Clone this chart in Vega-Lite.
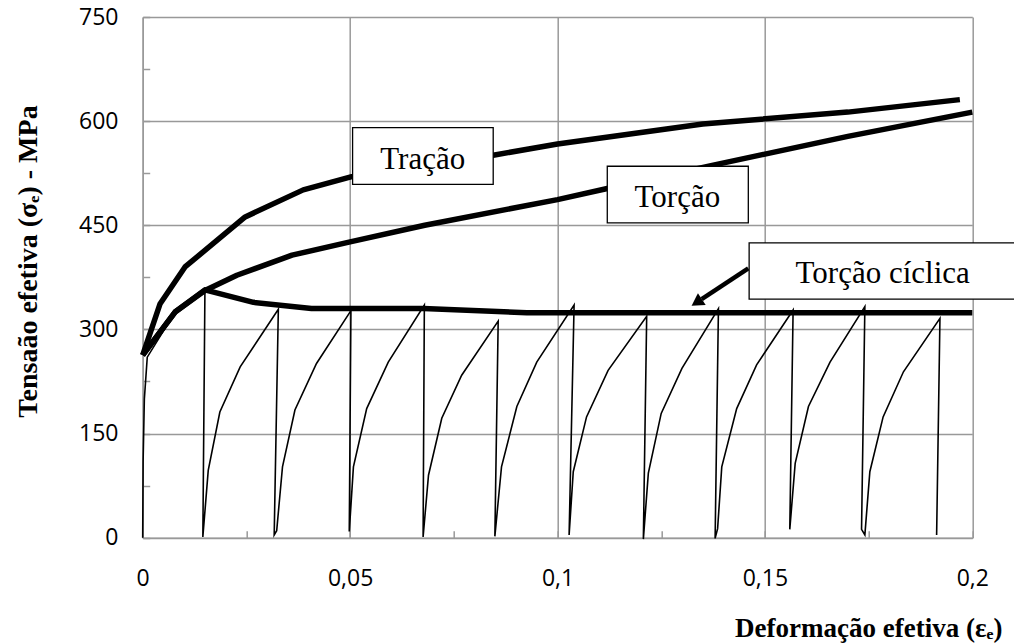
{
  "$schema": "https://vega.github.io/schema/vega-lite/v6.json",
  "width": 829.6,
  "height": 520.7,
  "autosize": {"type": "none"},
  "padding": {"left": 142.7, "top": 17, "right": 41.7, "bottom": 105.3},
  "background": "white",
  "config": {"view": {"stroke": null}},
  "datasets": {
    "curves": [
      {"s": "Tração", "i": 0, "x": 0, "y": 263},
      {"s": "Tração", "i": 1, "x": 0.0042, "y": 337},
      {"s": "Tração", "i": 2, "x": 0.0102, "y": 390},
      {"s": "Tração", "i": 3, "x": 0.0247, "y": 462},
      {"s": "Tração", "i": 4, "x": 0.0387, "y": 501},
      {"s": "Tração", "i": 5, "x": 0.0504, "y": 520},
      {"s": "Tração", "i": 6, "x": 0.0845, "y": 551},
      {"s": "Tração", "i": 7, "x": 0.1, "y": 567},
      {"s": "Tração", "i": 8, "x": 0.135, "y": 596},
      {"s": "Tração", "i": 9, "x": 0.17, "y": 613},
      {"s": "Tração", "i": 10, "x": 0.197, "y": 631},
      {"s": "Torção", "i": 0, "x": 0, "y": 263},
      {"s": "Torção", "i": 1, "x": 0.0078, "y": 325},
      {"s": "Torção", "i": 2, "x": 0.015, "y": 356},
      {"s": "Torção", "i": 3, "x": 0.0227, "y": 378},
      {"s": "Torção", "i": 4, "x": 0.036, "y": 407},
      {"s": "Torção", "i": 5, "x": 0.05, "y": 426},
      {"s": "Torção", "i": 6, "x": 0.068, "y": 450},
      {"s": "Torção", "i": 7, "x": 0.1, "y": 487},
      {"s": "Torção", "i": 8, "x": 0.112, "y": 503},
      {"s": "Torção", "i": 9, "x": 0.137, "y": 536},
      {"s": "Torção", "i": 10, "x": 0.17, "y": 578},
      {"s": "Torção", "i": 11, "x": 0.2, "y": 613},
      {"s": "Envoltória", "i": 0, "x": 0, "y": 263},
      {"s": "Envoltória", "i": 1, "x": 0.0078, "y": 325},
      {"s": "Envoltória", "i": 2, "x": 0.015, "y": 357},
      {"s": "Envoltória", "i": 3, "x": 0.0267, "y": 339},
      {"s": "Envoltória", "i": 4, "x": 0.0407, "y": 330},
      {"s": "Envoltória", "i": 5, "x": 0.0677, "y": 330},
      {"s": "Envoltória", "i": 6, "x": 0.0926, "y": 324},
      {"s": "Envoltória", "i": 7, "x": 0.2, "y": 324},
      {"s": "Cíclica", "i": 0, "x": 0, "y": 0},
      {"s": "Cíclica", "i": 1, "x": 0.0001, "y": 110},
      {"s": "Cíclica", "i": 2, "x": 0.0004, "y": 200},
      {"s": "Cíclica", "i": 3, "x": 0.0011, "y": 260},
      {"s": "Cíclica", "i": 4, "x": 0.0078, "y": 325},
      {"s": "Cíclica", "i": 5, "x": 0.015, "y": 355},
      {"s": "Cíclica", "i": 6, "x": 0.0145, "y": 1},
      {"s": "Cíclica", "i": 7, "x": 0.0158, "y": 97},
      {"s": "Cíclica", "i": 8, "x": 0.0186, "y": 181},
      {"s": "Cíclica", "i": 9, "x": 0.0235, "y": 246},
      {"s": "Cíclica", "i": 10, "x": 0.0327, "y": 329},
      {"s": "Cíclica", "i": 11, "x": 0.0317, "y": 4},
      {"s": "Cíclica", "i": 12, "x": 0.0323, "y": 10},
      {"s": "Cíclica", "i": 13, "x": 0.0337, "y": 102},
      {"s": "Cíclica", "i": 14, "x": 0.0367, "y": 184},
      {"s": "Cíclica", "i": 15, "x": 0.0419, "y": 251},
      {"s": "Cíclica", "i": 16, "x": 0.0502, "y": 327},
      {"s": "Cíclica", "i": 17, "x": 0.0498, "y": 9},
      {"s": "Cíclica", "i": 18, "x": 0.0508, "y": 102},
      {"s": "Cíclica", "i": 19, "x": 0.054, "y": 186},
      {"s": "Cíclica", "i": 20, "x": 0.0592, "y": 253},
      {"s": "Cíclica", "i": 21, "x": 0.0679, "y": 335},
      {"s": "Cíclica", "i": 22, "x": 0.0676, "y": 1},
      {"s": "Cíclica", "i": 23, "x": 0.0689, "y": 90},
      {"s": "Cíclica", "i": 24, "x": 0.0721, "y": 172},
      {"s": "Cíclica", "i": 25, "x": 0.0769, "y": 234},
      {"s": "Cíclica", "i": 26, "x": 0.0857, "y": 312},
      {"s": "Cíclica", "i": 27, "x": 0.0849, "y": 2},
      {"s": "Cíclica", "i": 28, "x": 0.0865, "y": 102},
      {"s": "Cíclica", "i": 29, "x": 0.0902, "y": 189},
      {"s": "Cíclica", "i": 30, "x": 0.095, "y": 253},
      {"s": "Cíclica", "i": 31, "x": 0.104, "y": 335},
      {"s": "Cíclica", "i": 32, "x": 0.1028, "y": 4},
      {"s": "Cíclica", "i": 33, "x": 0.1038, "y": 95},
      {"s": "Cíclica", "i": 34, "x": 0.107, "y": 174},
      {"s": "Cíclica", "i": 35, "x": 0.1122, "y": 241},
      {"s": "Cíclica", "i": 36, "x": 0.1215, "y": 319},
      {"s": "Cíclica", "i": 37, "x": 0.1207, "y": -2},
      {"s": "Cíclica", "i": 38, "x": 0.1219, "y": 93},
      {"s": "Cíclica", "i": 39, "x": 0.125, "y": 179},
      {"s": "Cíclica", "i": 40, "x": 0.13, "y": 244},
      {"s": "Cíclica", "i": 41, "x": 0.1388, "y": 330},
      {"s": "Cíclica", "i": 42, "x": 0.138, "y": -1},
      {"s": "Cíclica", "i": 43, "x": 0.1386, "y": 13},
      {"s": "Cíclica", "i": 44, "x": 0.1396, "y": 102},
      {"s": "Cíclica", "i": 45, "x": 0.1432, "y": 186},
      {"s": "Cíclica", "i": 46, "x": 0.148, "y": 249},
      {"s": "Cíclica", "i": 47, "x": 0.1568, "y": 328},
      {"s": "Cíclica", "i": 48, "x": 0.156, "y": 12},
      {"s": "Cíclica", "i": 49, "x": 0.1573, "y": 107},
      {"s": "Cíclica", "i": 50, "x": 0.1605, "y": 189},
      {"s": "Cíclica", "i": 51, "x": 0.1657, "y": 253},
      {"s": "Cíclica", "i": 52, "x": 0.1741, "y": 333},
      {"s": "Cíclica", "i": 53, "x": 0.1733, "y": 12},
      {"s": "Cíclica", "i": 54, "x": 0.1741, "y": 4},
      {"s": "Cíclica", "i": 55, "x": 0.1753, "y": 95},
      {"s": "Cíclica", "i": 56, "x": 0.1785, "y": 174},
      {"s": "Cíclica", "i": 57, "x": 0.1834, "y": 239},
      {"s": "Cíclica", "i": 58, "x": 0.1922, "y": 316},
      {"s": "Cíclica", "i": 59, "x": 0.1914, "y": 4}
    ],
    "boxes": [
      {"label": "Tração", "x": 0.0506, "x2": 0.0845, "y": 509, "y2": 590.7},
      {"label": "Torção", "x": 0.112, "x2": 0.146, "y": 453.4, "y2": 535},
      {"label": "Torção cíclica", "x": 0.1462, "x2": 0.2105, "y": 343.6, "y2": 424.6}
    ],
    "labels": [
      {"label": "Tração", "x": 0.0675, "y": 531.7},
      {"label": "Torção", "x": 0.1289, "y": 476.5},
      {"label": "Torção cíclica", "x": 0.1784, "y": 366.2}
    ],
    "arrow": [
      {"x": 0.146, "y": 387.8, "x2": 0.13476, "y2": 343.6}
    ],
    "arrowhead": [
      {"x": 0.13356, "y": 338.9}
    ]
  },
  "encoding": {
    "x": {
      "field": "x",
      "type": "quantitative",
      "scale": {"domain": [0, 0.2], "nice": false, "zero": false},
      "axis": {
        "values": [0, 0.025, 0.05, 0.075, 0.1, 0.125, 0.15, 0.175, 0.2],
        "format": "~g",
        "labelExpr": "round(datum.value*1000) % 50 === 0 ? replace(datum.label, '.', ',') : ''",
        "grid": true,
        "gridColor": "#999999",
        "gridWidth": 1.5,
        "gridOpacity": {"condition": {"test": "round(datum.value*1000) % 50 !== 0", "value": 0}, "value": 1},
        "domainColor": "#999999",
        "domainWidth": 1.5,
        "ticks": true,
        "tickColor": "#999999",
        "tickWidth": 1.5,
        "tickSize": -7,
        "labelFont": "Open Sans",
        "labelFontSize": 23,
        "labelColor": "black",
        "labelPadding": 37,
        "labelFlush": false,
        "labelOverlap": false,
        "title": "Deformação efetiva (εₑ)",
        "titleFont": "Liberation Serif",
        "titleFontSize": 27,
        "titleFontWeight": "bold",
        "titleColor": "black",
        "titleAlign": "right",
        "titleAnchor": "end",
        "titleBaseline": "alphabetic",
        "titleX": 859.3,
        "titleY": 99
      }
    },
    "y": {
      "field": "y",
      "type": "quantitative",
      "scale": {"domain": [0, 750], "nice": false, "zero": false},
      "axis": {
        "values": [0, 75, 150, 225, 300, 375, 450, 525, 600, 675, 750],
        "labelExpr": "datum.value % 150 === 0 ? datum.label : ''",
        "grid": true,
        "gridColor": "#999999",
        "gridWidth": 1.5,
        "gridOpacity": {"condition": {"test": "datum.value % 150 !== 0", "value": 0}, "value": 1},
        "domainColor": "#999999",
        "domainWidth": 1.5,
        "ticks": true,
        "tickColor": "#999999",
        "tickWidth": 1.5,
        "tickSize": -7,
        "labelFont": "Open Sans",
        "labelFontSize": 23,
        "labelColor": "black",
        "labelPadding": 31.7,
        "labelFlush": false,
        "labelOverlap": false,
        "title": "Tensaão efetiva (σₑ) - MPa",
        "titleFont": "Liberation Serif",
        "titleFontSize": 28,
        "titleFontWeight": "bold",
        "titleColor": "black",
        "titleAngle": -90,
        "titleAlign": "center",
        "titleBaseline": "middle",
        "titleX": -114.7,
        "titleY": 244
      }
    }
  },
  "layer": [
    {
      "data": {"name": "curves"},
      "transform": [{"filter": "datum.s === 'Cíclica'"}],
      "mark": {"type": "line", "color": "black", "strokeWidth": 1.6},
      "encoding": {"detail": {"field": "s"}, "order": {"field": "i", "type": "quantitative"}}
    },
    {
      "data": {"name": "curves"},
      "transform": [{"filter": "datum.s !== 'Cíclica'"}],
      "mark": {"type": "line", "color": "black", "strokeWidth": 5.5, "strokeJoin": "round"},
      "encoding": {"detail": {"field": "s"}, "order": {"field": "i", "type": "quantitative"}}
    },
    {
      "data": {"name": "arrow"},
      "mark": {"type": "rule", "color": "black", "strokeWidth": 4.5},
      "encoding": {"x2": {"field": "x2"}, "y2": {"field": "y2"}}
    },
    {
      "data": {"name": "arrowhead"},
      "mark": {"type": "point", "shape": "triangle-up", "filled": true, "size": 200, "angle": 236.6, "color": "black", "opacity": 1},
      "encoding": {}
    },
    {
      "data": {"name": "boxes"},
      "mark": {"type": "rect", "fill": "white", "stroke": "black", "strokeWidth": 1.3},
      "encoding": {"x2": {"field": "x2"}, "y2": {"field": "y2"}}
    },
    {
      "data": {"name": "labels"},
      "mark": {"type": "text", "font": "Liberation Serif", "fontSize": 31, "color": "black", "align": "center", "baseline": "alphabetic"},
      "encoding": {"text": {"field": "label"}}
    }
  ]
}
